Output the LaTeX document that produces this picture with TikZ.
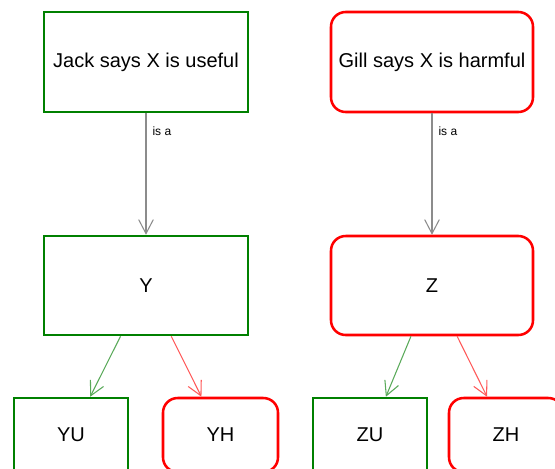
\documentclass[tikz,border=0pt]{standalone}
\usepackage{fontspec}
\setmainfont{Liberation Sans}
\usetikzlibrary{arrows.meta}
\definecolor{boxgreen}{RGB}{0,128,0}
\definecolor{boxred}{RGB}{255,0,0}
\definecolor{linkgreen}{RGB}{90,170,90}
\definecolor{linkred}{RGB}{255,90,90}
\definecolor{linkgrey}{RGB}{140,140,140}
\tikzset{
  usefulbox/.style={draw=boxgreen, line width=1.9pt, inner sep=0pt, font=\fontsize{15}{18}\selectfont},
  harmfulbox/.style={draw=boxred, line width=1.9pt, rounded corners=11pt, inner sep=0pt, font=\fontsize{15}{18}\selectfont},
  link/.style={line width=0.8pt, -{Straight Barb[length=10.5pt, width=11pt, line width=0.8pt]}},
  lbl/.style={font=\fontsize{9}{11}\selectfont, inner sep=0pt}
}
\begin{document}
\begin{tikzpicture}[x=0.75pt, y=-0.75pt]
\clip (0,0) rectangle (555,468);
\node[usefulbox, minimum width=204*0.75pt, minimum height=100*0.75pt] (J) at (146,62) {Jack says X is useful};
\node[harmfulbox, minimum width=202*0.75pt, minimum height=100*0.75pt] (G) at (432,62) {Gill says X is harmful};
\node[usefulbox, minimum width=204*0.75pt, minimum height=99*0.75pt] (Y) at (146,285.5) {Y};
\node[harmfulbox, minimum width=202*0.75pt, minimum height=99*0.75pt] (Z) at (432,285.5) {Z};
\node[usefulbox, minimum width=114*0.75pt, minimum height=74*0.75pt] (YU) at (71,435) {YU};
\node[harmfulbox, minimum width=115*0.75pt, minimum height=74*0.75pt] (YH) at (220.5,435) {YH};
\node[usefulbox, minimum width=114*0.75pt, minimum height=74*0.75pt] (ZU) at (370,435) {ZU};
\node[harmfulbox, minimum width=114*0.75pt, minimum height=74*0.75pt] (ZH) at (506,435) {ZH};
\draw[link, draw=linkgrey] (J) -- node[lbl, pos=0.15, anchor=west, xshift=4.5pt] {is a} (Y);
\draw[link, draw=linkgrey] (G) -- node[lbl, pos=0.15, anchor=west, xshift=4.5pt] {is a} (Z);
\draw[link, draw=linkgreen] (Y) -- (YU);
\draw[link, draw=linkred] (Y) -- (YH);
\draw[link, draw=linkgreen] (Z) -- (ZU);
\draw[link, draw=linkred] (Z) -- (ZH);
\end{tikzpicture}
\end{document}
